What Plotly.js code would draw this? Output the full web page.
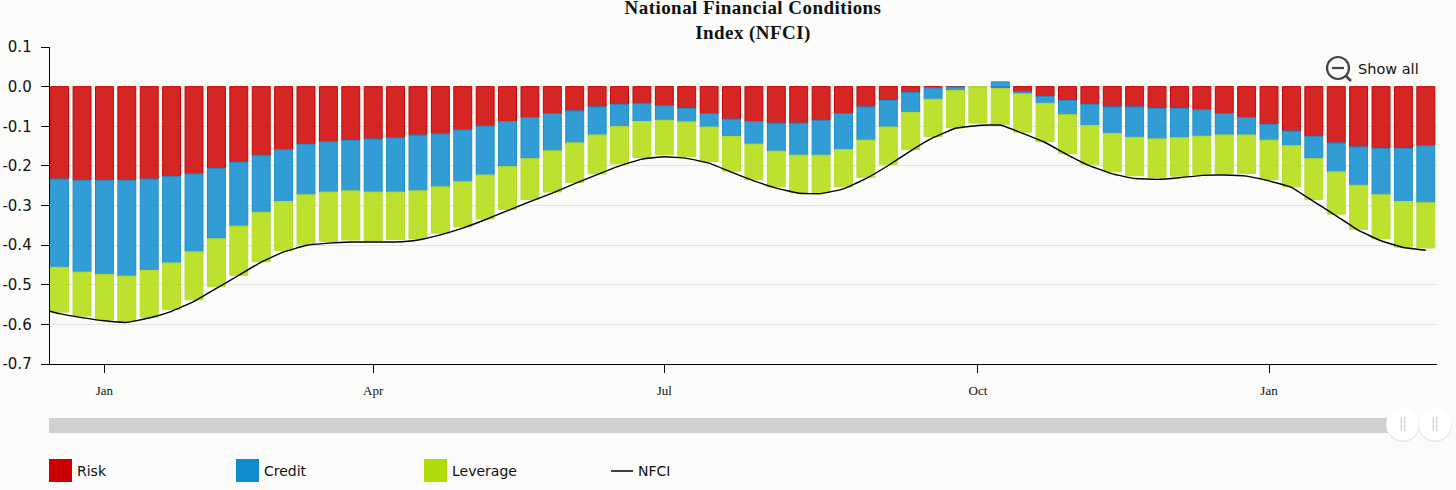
<!DOCTYPE html>
<html><head><meta charset="utf-8">
<script src="https://cdn.plot.ly/plotly-3.0.1.min.js"></script>
<style>html,body{margin:0;padding:0;background:#fbfbf9;overflow:hidden}.gtitle{letter-spacing:.45px}</style>
</head><body><div id="chart" style="width:1456px;height:490px"></div>
<script>
const weeks = [0,1,2,3,4,5,6,7,8,9,10,11,12,13,14,15,16,17,18,19,20,21,22,23,24,25,26,27,28,29,30,31,32,33,34,35,36,37,38,39,40,41,42,43,44,45,46,47,48,49,50,51,52,53,54,55,56,57,58,59,60,61];
const risk = [-.233,-.236,-.236,-.236,-.233,-.226,-.220,-.206,-.190,-.173,-.159,-.145,-.139,-.136,-.132,-.129,-.122,-.119,-.109,-.099,-.088,-.078,-.068,-.061,-.051,-.045,-.042,-.048,-.055,-.068,-.082,-.088,-.092,-.092,-.085,-.068,-.051,-.035,-.015,-.003,-.001,0,-.004,-.013,-.025,-.035,-.045,-.051,-.051,-.055,-.055,-.058,-.068,-.078,-.095,-.112,-.125,-.142,-.152,-.156,-.156,-.149];
const credit = [-.223,-.232,-.238,-.242,-.231,-.219,-.197,-.178,-.162,-.144,-.131,-.128,-.127,-.127,-.134,-.137,-.141,-.134,-.131,-.124,-.114,-.104,-.094,-.081,-.071,-.056,-.046,-.037,-.034,-.034,-.044,-.057,-.071,-.081,-.088,-.091,-.084,-.067,-.050,-.029,-.009,0,.012,-.005,-.017,-.036,-.053,-.067,-.077,-.077,-.074,-.067,-.054,-.044,-.040,-.037,-.057,-.073,-.097,-.117,-.134,-.144];
const leverage = [-.113,-.111,-.115,-.115,-.118,-.117,-.121,-.121,-.124,-.125,-.124,-.125,-.125,-.124,-.125,-.120,-.121,-.117,-.114,-.111,-.108,-.103,-.104,-.100,-.098,-.094,-.091,-.087,-.087,-.087,-.087,-.090,-.090,-.094,-.094,-.094,-.094,-.094,-.094,-.094,-.094,-.092,-.091,-.097,-.097,-.098,-.098,-.097,-.097,-.097,-.097,-.097,-.097,-.097,-.100,-.104,-.103,-.107,-.111,-.111,-.115,-.114];
const nfciWeeks = [-1].concat(weeks);
const nfci = [-.558,-.573,-.583,-.591,-.595,-.584,-.567,-.542,-.509,-.476,-.443,-.417,-.401,-.395,-.392,-.392,-.392,-.387,-.374,-.357,-.336,-.313,-.290,-.269,-.245,-.222,-.200,-.183,-.177,-.181,-.193,-.216,-.238,-.256,-.269,-.270,-.258,-.232,-.199,-.162,-.129,-.105,-.098,-.097,-.118,-.141,-.172,-.200,-.220,-.232,-.234,-.230,-.224,-.223,-.226,-.238,-.254,-.290,-.326,-.363,-.389,-.406,-.413];
const monthTicks = [2,14,27,41,54];
const monthLabels = ['Jan','Apr','Jul','Oct','Jan'];
const yTicks = [0.1,0,-0.1,-0.2,-0.3,-0.4,-0.5,-0.6,-0.7];
const yLabels = ['0.1','0.0','-0.1','-0.2','-0.3','-0.4','-0.5','-0.6','-0.7'];
const seriesNames = ['Risk','Credit','Leverage','NFCI'];

const L=50,R=1437,T=47,B=364;
const fx=p=>(p-L)/(R-L), fy=p=>(B-p)/(B-T);
const bar=(name,y,c)=>({type:'bar',name,x:weeks,y,
  marker:{color:c[0],line:{color:c[1],width:1}},hoverinfo:'y+name'});
const shapes=[], ann=[];
const rect=(x0,y0,x1,y1,fill)=>shapes.push({type:'rect',xref:'paper',yref:'paper',x0:fx(x0),x1:fx(x1),y0:fy(y0),y1:fy(y1),fillcolor:fill,line:{width:0},layer:'above'});
const circ=(cx,cy,r,fill,line,w)=>shapes.push({type:'circle',xref:'paper',yref:'paper',x0:fx(cx-r),x1:fx(cx+r),y0:fy(cy+r),y1:fy(cy-r),fillcolor:fill,line:{color:line,width:w},layer:'above'});
const seg=(x0,y0,x1,y1,c,w)=>shapes.push({type:'line',xref:'paper',yref:'paper',x0:fx(x0),x1:fx(x1),y0:fy(y0),y1:fy(y1),line:{color:c,width:w},layer:'above'});
const txt=(x,y,t,size)=>ann.push({xref:'paper',yref:'paper',x:fx(x),y:fy(y),text:t,showarrow:false,xanchor:'left',yanchor:'middle',xshift:-2,
  font:{family:'"DejaVu Sans",sans-serif',size,color:'#111'}});

// navigator
rect(49,418,1390,433,'#d0d0d0');
for(const cx of [1403,1435]){
  circ(cx,425,17,'#e6e6e4','rgba(0,0,0,0)',0);
  circ(cx,424,16.5,'#ffffff','rgba(0,0,0,0)',0);
  seg(cx-1.7,417,cx-1.7,431,'#c4c4c4',1);
  seg(cx+1.7,417,cx+1.7,431,'#c4c4c4',1);
}
// legend
rect(49,459,72,482,'#cc0000'); txt(77,471,seriesNames[0],14);
rect(236,459,259,482,'#0e8ccf'); txt(264,471,seriesNames[1],14);
rect(424,459,447,482,'#b0dc0b'); txt(452,471,seriesNames[2],14);
seg(611,471,633,471,'#000',1.5); txt(638,471,seriesNames[3],14);
// show all
circ(1338,68,11,'rgba(0,0,0,0)','#444',2.2);
seg(1332,68,1344,68,'#444',2.2);
seg(1346,76,1351,81,'#444',2.5);
txt(1358,69,'Show all',14.5);

Plotly.newPlot('chart',[
  bar(seriesNames[0],risk,['rgba(204,0,0,.85)','#cc0000']),
  bar(seriesNames[1],credit,['rgba(14,140,207,.85)','#1b8fd0']),
  bar(seriesNames[2],leverage,['rgba(176,220,11,.85)','#b8de2a']),
  {type:'scatter',mode:'lines',name:seriesNames[3],x:nfciWeeks,y:nfci,line:{color:'#000',width:1.4,shape:'spline',smoothing:.3}}
],{
  width:1456,height:490,autosize:false,showlegend:false,barmode:'relative',bargap:.2,
  paper_bgcolor:'#fbfbf9',plot_bgcolor:'#fbfbf9',
  margin:{l:L,r:1456-R,t:T,b:490-B,pad:0},
  title:{text:'<b>National Financial Conditions<br>Index (NFCI)</b>',x:753/1456,xanchor:'center',y:1,yanchor:'top',yref:'container',pad:{t:14},
    font:{family:'"Liberation Serif",serif',size:19,color:'#111'}},
  xaxis:{range:[-0.43,61.5],tickmode:'array',tickvals:monthTicks,ticktext:monthLabels,showgrid:false,zeroline:false,
    showline:true,linecolor:'#000',linewidth:1.3,ticks:'outside',ticklen:8,tickcolor:'#000',tickwidth:1,ticklabelstandoff:6,
    tickfont:{family:'"Liberation Serif",serif',size:13,color:'#111'}},
  yaxis:{range:[-0.7,0.1],tickmode:'array',tickvals:yTicks,ticktext:yLabels,showgrid:true,gridcolor:'#e2e2e0',gridwidth:1,zeroline:false,
    showline:true,linecolor:'#000',linewidth:1.3,ticks:'outside',ticklen:8,tickcolor:'#000',tickwidth:1,ticklabelstandoff:6,
    tickfont:{family:'"DejaVu Sans",sans-serif',size:15,color:'#111'}},
  shapes,annotations:ann
},{displayModeBar:false,staticPlot:true});
</script></body></html>
